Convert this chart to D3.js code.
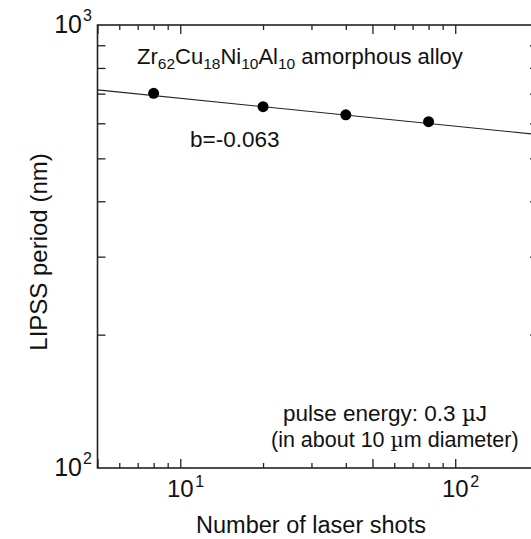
<!DOCTYPE html>
<html>
<head>
<meta charset="utf-8">
<script src="https://cdn.jsdelivr.net/npm/d3@7"></script>
<style>
  html, body { margin: 0; padding: 0; background: #fff; }
  svg { display: block; }
  text { font-family: "Liberation Sans", Arial, sans-serif; fill: #111; }
</style>
</head>
<body>
<svg id="chart" width="531" height="539"></svg>
<script>
// Measured LIPSS period versus number of laser shots
const shots = [8, 20, 40, 80];
const period = [701, 654, 627, 605];

// Power-law fit  period = fitA * shots^fitB
const fitA = 790;
const fitB = -0.063;

// Axis ranges and ticks
const xDomain = [5, 200];
const yDomain = [100, 1000];
const xMajorTicks = [5, 10, 50, 100];
const xMinorTicks = [6, 7, 8, 9, 20, 30, 40, 60, 70, 80, 90];
const yMinorTicks = [200, 300, 400, 500, 600, 700, 800, 900];
const xTickLabels = [{ value: 10, exp: "1" }, { value: 100, exp: "2" }];
const yTickLabels = [{ value: 100, exp: "2" }, { value: 1000, exp: "3" }];

const xTitle = "Number of laser shots";
const yTitle = "LIPSS period (nm)";
const noteEnergy = ["pulse energy: 0.3 ", "\u00b5", "J"];
const noteSpot = ["(in about 10 ", "\u00b5", "m diameter)"];

const svg = d3.select("#chart");
const plotL = 97.5, plotR = 538, plotT = 25, plotB = 468;

const x = d3.scaleLog().domain(xDomain).range([plotL, plotR]);
const y = d3.scaleLog().domain(yDomain).range([plotB, plotT]);

const axisColor = "#222";
const majorLen = 9, minorLen = 5, yTickLen = 8;

function styleAxis(g) {
  g.select(".domain").remove();
  g.selectAll(".tick line").attr("stroke", axisColor).attr("stroke-width", 1.3);
  g.selectAll(".tick text").remove();
}

// bottom and top ticks (pointing inward)
[[xMajorTicks, majorLen], [xMinorTicks, minorLen]].forEach(([ticks, len]) => {
  svg.append("g").attr("transform", `translate(0,${plotB})`)
    .call(d3.axisBottom(x).tickValues(ticks).tickSize(-len)).call(styleAxis);
  svg.append("g").attr("transform", `translate(0,${plotT})`)
    .call(d3.axisTop(x).tickValues(ticks).tickSize(-len)).call(styleAxis);
});

// left and right ticks (pointing inward)
svg.append("g").attr("transform", `translate(${plotL},0)`)
  .call(d3.axisLeft(y).tickValues(yMinorTicks).tickSize(-yTickLen)).call(styleAxis);
svg.append("g").attr("transform", `translate(${plotR},0)`)
  .call(d3.axisRight(y).tickValues(yMinorTicks).tickSize(-yTickLen)).call(styleAxis);

// frame
svg.append("rect")
  .attr("x", plotL).attr("y", plotT)
  .attr("width", plotR - plotL).attr("height", plotB - plotT)
  .attr("fill", "none").attr("stroke", axisColor).attr("stroke-width", 1.6);

// x tick labels: 10^n
xTickLabels.forEach(d => {
  const px = x(d.value);
  svg.append("text").attr("x", px).attr("y", plotB + 29)
    .attr("text-anchor", "middle").attr("font-size", 24).text("10");
  svg.append("text").attr("x", px + 15).attr("y", plotB + 19)
    .attr("font-size", 16).text(d.exp);
});

// y tick labels: 10^n
yTickLabels.forEach(d => {
  const py = y(d.value);
  svg.append("text").attr("x", 82).attr("y", py + 7.5)
    .attr("text-anchor", "end").attr("font-size", 25).text("10");
  svg.append("text").attr("x", 83).attr("y", py - 4)
    .attr("font-size", 16).text(d.exp);
});

// axis titles
svg.append("text").attr("x", 311).attr("y", 533)
  .attr("text-anchor", "middle").attr("font-size", 23.5).text(xTitle);
svg.append("text")
  .attr("transform", "translate(47,252) rotate(-90)")
  .attr("text-anchor", "middle").attr("font-size", 24).text(yTitle);

// fitted power law, straight on log-log axes
const fitLine = xDomain.map(v => [v, fitA * Math.pow(v, fitB)]);
svg.append("path")
  .datum(fitLine)
  .attr("d", d3.line().x(d => x(d[0])).y(d => y(d[1])))
  .attr("fill", "none").attr("stroke", "#222").attr("stroke-width", 1.1);

// measured points
svg.append("g").selectAll("circle")
  .data(shots.map((s, i) => [s, period[i]]))
  .join("circle")
  .attr("cx", d => x(d[0])).attr("cy", d => y(d[1]))
  .attr("r", 5.5).attr("fill", "#000");

// material label with subscripts
const alloy = [["Zr", false], ["62", true], ["Cu", false], ["18", true],
               ["Ni", false], ["10", true], ["Al", false], ["10", true],
               [" amorphous alloy", false]];
const alloyText = svg.append("text").attr("x", 137).attr("y", 64).attr("font-size", 22);
alloy.forEach(([t, sub], i) => {
  const prev = i > 0 ? alloy[i - 1][1] : false;
  alloyText.append("tspan")
    .attr("font-size", sub ? 15.5 : 22)
    .attr("dy", sub === prev ? 0 : (sub ? 5 : -5))
    .text(t);
});

// slope label
svg.append("text").attr("x", 190).attr("y", 147).attr("font-size", 22.5)
  .text("b=" + fitB.toFixed(3));

// laser conditions
function noteLine(parts, px, py, size) {
  const t = svg.append("text").attr("x", px).attr("y", py).attr("font-size", size);
  t.append("tspan").text(parts[0]);
  t.append("tspan").attr("font-family", "DejaVu Serif, serif").attr("font-size", size - 1).text(parts[1]);
  t.append("tspan").text(parts[2]);
}
noteLine(noteEnergy, 283, 421, 22.5);
noteLine(noteSpot, 271, 447, 21.5);
</script>
</body>
</html>
